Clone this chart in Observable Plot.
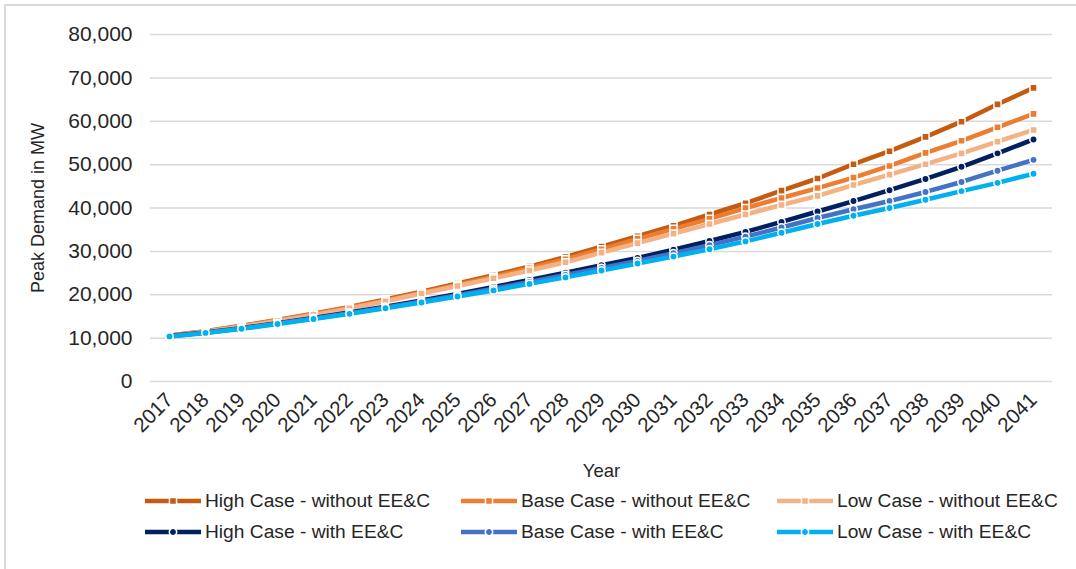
<!DOCTYPE html>
<html>
<head>
<meta charset="utf-8">
<script src="https://cdn.jsdelivr.net/npm/d3@7"></script>
<script src="https://cdn.jsdelivr.net/npm/@observablehq/plot@0.6"></script>
<style>
  html, body { margin: 0; padding: 0; background: #fff; }
  #wrap { position: relative; width: 1076px; height: 569px; overflow: hidden; font-family: "Liberation Sans", Arial, sans-serif; }
  #frame { position: absolute; left: 4px; top: 4px; width: 1200px; height: 700px; border-left: 2px solid #d9d9d9; border-top: 2px solid #d9d9d9; pointer-events: none; }
  #chart svg { display: block; }
  .legend-row { display: flex; height: 31px; align-items: center; padding-left: 145px; width: 1200px; }
  .legend-item { display: flex; align-items: center; flex: none; width: 316px; font-size: 19.2px; color: #262626; white-space: nowrap; }
  .legend-item svg { margin-right: 4px; flex: none; }
</style>
</head>
<body>
<div id="wrap">
  <div id="chart"></div>
  <div id="legend"></div>
  <div id="frame"></div>
</div>
<script>
// Peak demand forecast (MW), 2017–2041
const years = [2017, 2018, 2019, 2020, 2021, 2022, 2023, 2024, 2025, 2026, 2027, 2028, 2029,
               2030, 2031, 2032, 2033, 2034, 2035, 2036, 2037, 2038, 2039, 2040, 2041];

const highWithout = [10600, 11600, 12850, 14200, 15650, 17200, 18900, 20700, 22600, 24500, 26500, 28700, 31100,
                     33500, 35900, 38500, 41100, 44000, 46800, 50100, 53100, 56400, 59900, 63900, 67700];
const baseWithout = [10550, 11550, 12750, 14100, 15500, 17050, 18700, 20500, 22300, 24150, 26100, 28200, 30500,
                     32900, 35200, 37500, 40000, 42300, 44600, 47000, 49700, 52700, 55500, 58600, 61700];
const lowWithout  = [10500, 11500, 12650, 13950, 15350, 16850, 18500, 20300, 22000, 23800, 25600, 27500, 29700,
                     31900, 34100, 36300, 38500, 40700, 42800, 45300, 47700, 50100, 52600, 55300, 58000];
const highWith    = [10500, 11300, 12300, 13450, 14650, 15900, 17250, 18700, 20200, 21800, 23400, 25100, 26800,
                     28500, 30400, 32400, 34500, 36800, 39200, 41600, 44100, 46700, 49500, 52600, 55800];
const baseWith    = [10450, 11250, 12220, 13350, 14520, 15750, 17080, 18450, 19900, 21400, 22950, 24550, 26200,
                     27800, 29600, 31450, 33400, 35500, 37700, 39700, 41600, 43700, 46000, 48600, 51100];
const lowWith     = [10400, 11200, 12150, 13250, 14400, 15600, 16900, 18200, 19600, 21000, 22500, 24000, 25600,
                     27200, 28800, 30500, 32300, 34300, 36300, 38200, 40000, 41900, 43900, 45800, 47900];

const seriesNames = [
  "High Case - without EE&C", "Base Case - without EE&C", "Low Case - without EE&C",
  "High Case - with EE&C", "Base Case - with EE&C", "Low Case - with EE&C"
];
const seriesValues = [highWithout, baseWithout, lowWithout, highWith, baseWith, lowWith];
const seriesColors = ["#c55a11", "#ed7d31", "#f4b183", "#002060", "#4472c4", "#00b0f0"];
const seriesSymbols = ["square", "square", "square", "circle", "circle", "circle"];

const yTicks = [0, 10000, 20000, 30000, 40000, 50000, 60000, 70000, 80000];

const markerR = s => s === "square" ? 4 : 3.7;

const rows = seriesNames.map((name, i) =>
  years.map((year, j) => ({series: name, year, value: seriesValues[i][j]})));

const seriesMarks = rows.flatMap((data, i) => [
  Plot.line(data, {x: "year", y: "value", stroke: seriesColors[i], strokeWidth: 4.5, curve: "linear"}),
  Plot.dot(data, {
    x: "year", y: "value", symbol: seriesSymbols[i], fill: seriesColors[i],
    stroke: "white", strokeWidth: 1.5, r: markerR(seriesSymbols[i])
  })
]);

const chart = Plot.plot({
  width: 1076,
  height: 485,
  marginLeft: 150,
  marginRight: 24,
  marginTop: 34,
  marginBottom: 104,
  style: {fontFamily: "'Liberation Sans', Arial, sans-serif", fontSize: "19px", color: "#262626", background: "transparent"},
  x: {type: "point", domain: years, padding: 0.5},
  y: {domain: [0, 80000]},
  marks: [
    Plot.gridY(yTicks, {stroke: "#d9d9d9", strokeOpacity: 1, strokeWidth: 1.5}),
    Plot.axisY(yTicks, {
      tickSize: 0, tickPadding: 18, tickFormat: d3.format(","), fontSize: 21, label: null
    }),
    // vertical axis title, centred on the plotting area
    Plot.text(["Peak Demand in MW"], {
      frameAnchor: "left", textAnchor: "middle", rotate: -90, dx: -112, fontSize: 18, fill: "#262626"
    }),
    Plot.axisX(years, {
      tickSize: 0, tickRotate: -45, tickPadding: 15, tickFormat: d => String(d), fontSize: 20.5, label: null
    }),
    Plot.text(["Year"], {
      frameAnchor: "bottom", dy: 95, fontSize: 18.5, fill: "#262626"
    }),
    ...seriesMarks
  ]
});
document.getElementById("chart").appendChild(chart);

// Legend: two rows of three entries, each with a line-and-marker swatch
const legend = d3.select("#legend");
[[0, 1, 2], [3, 4, 5]].forEach(idx => {
  const row = legend.append("div").attr("class", "legend-row");
  idx.forEach(i => {
    const item = row.append("div").attr("class", "legend-item");
    const sw = item.append("svg").attr("width", 56).attr("height", 12);
    sw.append("line").attr("x1", 0).attr("x2", 56).attr("y1", 6).attr("y2", 6)
      .attr("stroke", seriesColors[i]).attr("stroke-width", 4.5);
    const sym = d3.symbol(seriesSymbols[i] === "square" ? d3.symbolSquare : d3.symbolCircle,
      Math.PI * Math.pow(markerR(seriesSymbols[i]), 2));
    sw.append("path").attr("d", sym()).attr("transform", "translate(28,6)")
      .attr("fill", seriesColors[i]).attr("stroke", "white").attr("stroke-width", 1.5);
    item.append("span").text(seriesNames[i]);
  });
});
</script>
</body>
</html>
